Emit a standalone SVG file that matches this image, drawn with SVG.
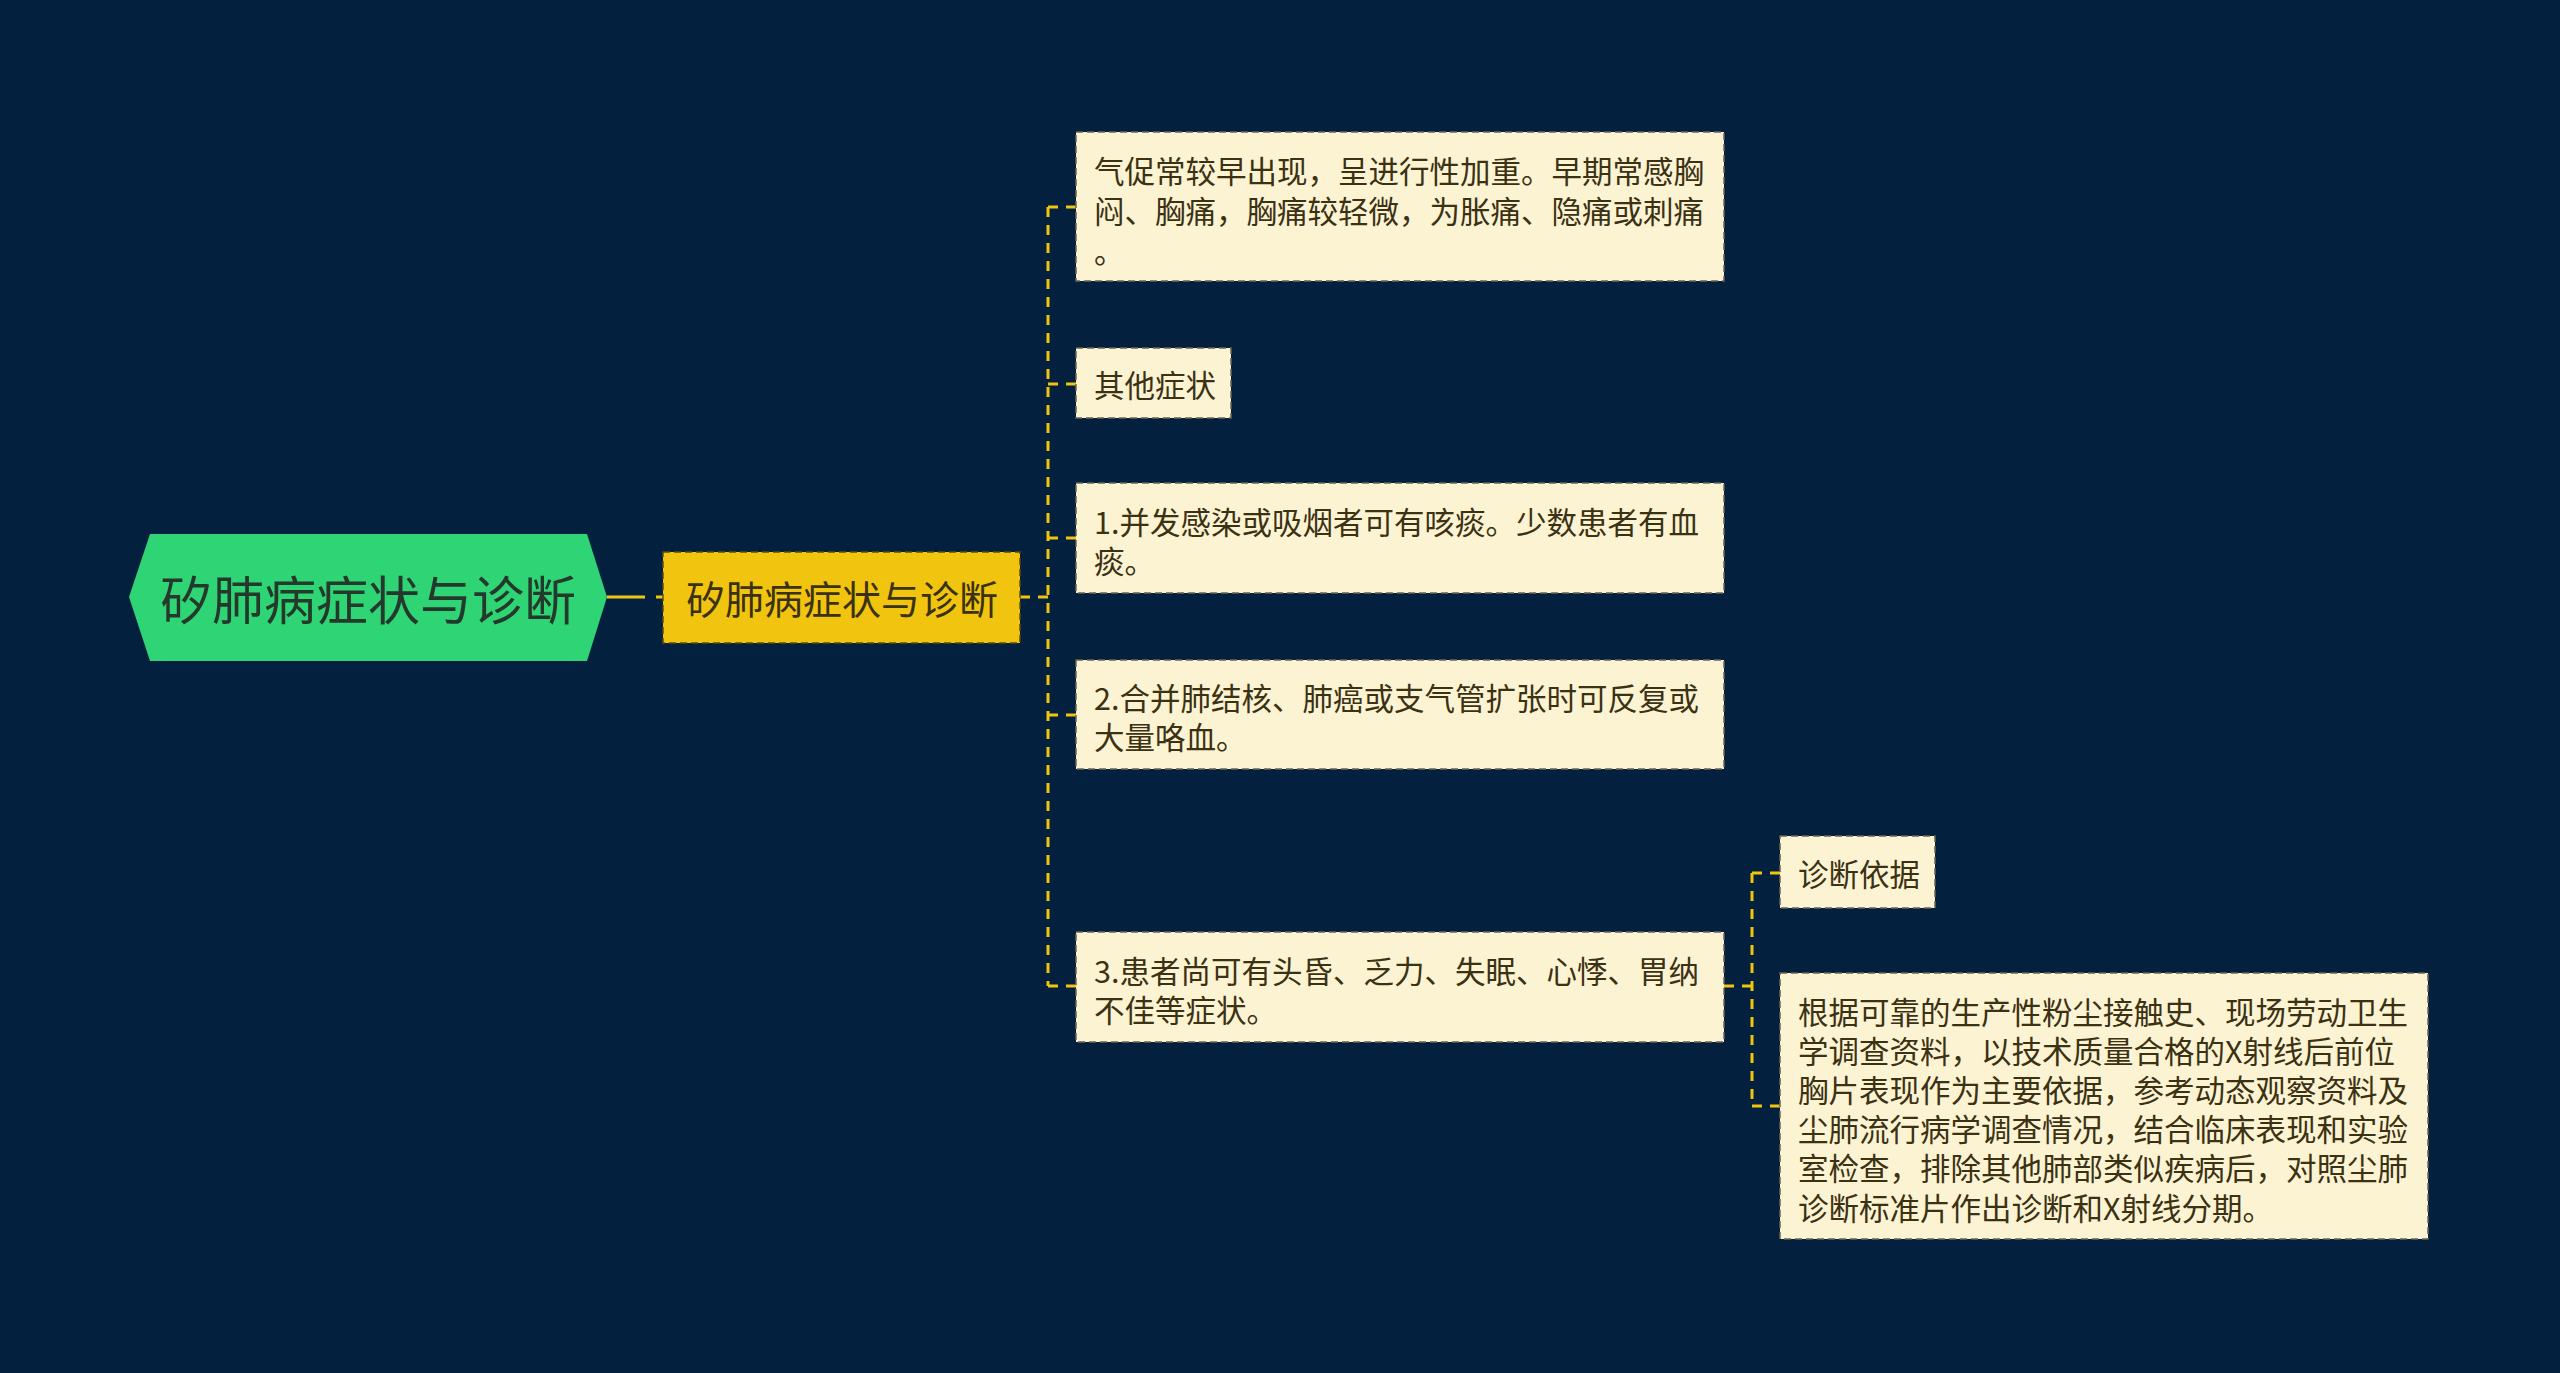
<svg xmlns="http://www.w3.org/2000/svg" width="2560" height="1373" viewBox="0 0 2560 1373">
<style>
.bg{fill:#03213f}
.conn{fill:none;stroke:#f1c40f;stroke-width:3;stroke-dasharray:10 8}
.leaf{fill:#fcf3d3;stroke:#6b6650;stroke-width:1.5;stroke-dasharray:7 4}
.lt{font-family:"Noto Sans CJK SC","Noto Sans",sans-serif;font-size:30.5px;fill:#3b3113;dominant-baseline:central}
</style>
<rect class="bg" x="0" y="0" width="2560" height="1373"/>
<g id="connectors">
<path d="M607 597 H663" fill="none" stroke="#f1c40f" stroke-width="3" stroke-dasharray="38 11"/>
<path class="conn" d="M1020 597 H1048"/>
<path class="conn" d="M1048 207 V986"/>
<path class="conn" d="M1048 207 H1076"/>
<path class="conn" d="M1048 384 H1076"/>
<path class="conn" d="M1048 538 H1076"/>
<path class="conn" d="M1048 715 H1076"/>
<path class="conn" d="M1048 986 H1076"/>
<path class="conn" d="M1724 986 H1752"/>
<path class="conn" d="M1752 873 V1106"/>
<path class="conn" d="M1752 873 H1780"/>
<path class="conn" d="M1752 1106 H1780"/>
</g>
<g id="root">
<polygon points="129,597 150,534 587,534 607,597 587,661 150,661" fill="#2fd475"/>
<text x="368" y="597" text-anchor="middle" dominant-baseline="central" font-family="Noto Sans CJK SC,Noto Sans,sans-serif" font-size="52" fill="#24392c">矽肺病症状与诊断</text>
</g>
<g id="main">
<rect x="663" y="552" width="357" height="91" fill="#f1c40f" stroke="#5b4d10" stroke-width="1.5" stroke-dasharray="7 4"/>
<text x="842" y="597" text-anchor="middle" dominant-baseline="central" font-family="Noto Sans CJK SC,Noto Sans,sans-serif" font-size="39" fill="#3b3113">矽肺病症状与诊断</text>
</g>
<g id="n1">
<rect class="leaf" x="1076" y="132" width="648" height="149"/>
<text class="lt" x="1094" y="170">气促常较早出现，呈进行性加重。早期常感胸</text>
<text class="lt" x="1094" y="210">闷、胸痛，胸痛较轻微，为胀痛、隐痛或刺痛</text>
<text class="lt" x="1094" y="250">。</text>
</g>
<g id="n2">
<rect class="leaf" x="1076" y="348" width="155" height="70"/>
<text class="lt" x="1094" y="384">其他症状</text>
</g>
<g id="n3">
<rect class="leaf" x="1076" y="483" width="648" height="110"/>
<text class="lt" x="1094" y="521">1.并发感染或吸烟者可有咳痰。少数患者有血</text>
<text class="lt" x="1094" y="560">痰。</text>
</g>
<g id="n4">
<rect class="leaf" x="1076" y="660" width="648" height="109"/>
<text class="lt" x="1094" y="697">2.合并肺结核、肺癌或支气管扩张时可反复或</text>
<text class="lt" x="1094" y="736">大量咯血。</text>
</g>
<g id="n5">
<rect class="leaf" x="1076" y="932" width="648" height="110"/>
<text class="lt" x="1094" y="970">3.患者尚可有头昏、乏力、失眠、心悸、胃纳</text>
<text class="lt" x="1094" y="1009">不佳等症状。</text>
</g>
<g id="n6">
<rect class="leaf" x="1780" y="836" width="155" height="72"/>
<text class="lt" x="1798" y="873">诊断依据</text>
</g>
<g id="n7">
<rect class="leaf" x="1780" y="973" width="648" height="266"/>
<text class="lt" x="1798" y="1011">根据可靠的生产性粉尘接触史、现场劳动卫生</text>
<text class="lt" x="1798" y="1050">学调查资料，以技术质量合格的X射线后前位</text>
<text class="lt" x="1798" y="1089">胸片表现作为主要依据，参考动态观察资料及</text>
<text class="lt" x="1798" y="1128">尘肺流行病学调查情况，结合临床表现和实验</text>
<text class="lt" x="1798" y="1167">室检查，排除其他肺部类似疾病后，对照尘肺</text>
<text class="lt" x="1798" y="1207">诊断标准片作出诊断和X射线分期。</text>
</g>
</svg>
